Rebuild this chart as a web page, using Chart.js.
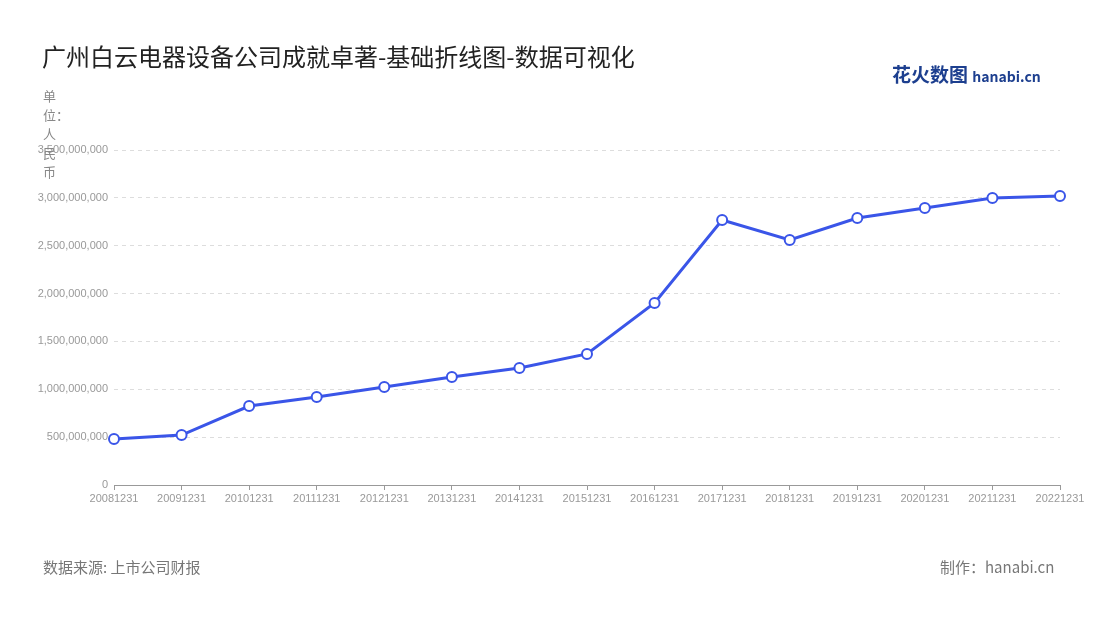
<!DOCTYPE html>
<html><head><meta charset="utf-8">
<script src="https://cdn.jsdelivr.net/npm/chart.js@4"></script>
<style>
body{margin:0;width:1100px;height:620px;background:#fff;font-family:"Noto Sans CJK SC","Noto Sans",sans-serif;position:relative;overflow:hidden}
.t{position:absolute;white-space:nowrap}
#wrap{position:absolute;left:0;top:0;width:1100px;height:620px}
</style></head><body>
<div id="wrap"><canvas id="c"></canvas></div>
<div class="t" style="left:42px;top:38px;font-size:24px;color:#222">广州白云电器设备公司成就卓著-基础折线图-数据可视化</div>
<div class="t" style="left:892px;top:60px;font-size:19px;font-weight:bold;color:#1d3f8f">花火数图 <span style="font-size:14px">hanabi.cn</span></div>
<div class="t" style="left:43px;top:86px;font-size:13px;color:#888;line-height:19px;white-space:normal;width:13px;word-break:break-all">单位：人民币</div>
<div class="t" style="left:43px;top:556px;font-size:15px;color:#777">数据来源: 上市公司财报</div>
<div class="t" style="left:940px;top:556px;font-size:15px;color:#777">制作：hanabi.cn</div>
<script>
const labels = ["20081231","20091231","20101231","20111231","20121231","20131231","20141231","20151231","20161231","20171231","20181231","20191231","20201231","20211231","20221231"];
const values = [480e6,522e6,825e6,920e6,1024e6,1128e6,1222e6,1369e6,1902e6,2769e6,2560e6,2790e6,2894e6,2999e6,3020e6];

new Chart(document.getElementById("c"), {
  type: "line",
  data: {
    labels: labels,
    datasets: [{
      data: values,
      borderColor: "#3a55e8",
      borderWidth: 3,
      pointBackgroundColor: "#fff",
      pointBorderColor: "#3a55e8",
      pointBorderWidth: 2,
      pointRadius: 5,
      tension: 0
    }]
  },
  options: {
    responsive: true,
    maintainAspectRatio: false,
    animation: false,
    layout: { padding: { top: 150, right: 40, left: 0, bottom: 0 } },
    plugins: { legend: { display: false }, tooltip: { enabled: false } },
    scales: {
      x: {
        offset: false,
        afterFit: (s) => { s.height = 135; },
        grid: { drawOnChartArea: false, drawTicks: true, tickLength: 5, color: "#999" },
        border: { color: "#999" },
        ticks: { color: "#999", font: { size: 11 }, maxRotation: 0, autoSkip: false, padding: 2 }
      },
      y: {
        min: 0, max: 3500000000,
        afterFit: (s) => { s.width = 114; },
        ticks: { stepSize: 500000000, color: "#999", font: { size: 11 }, padding: 6,
          callback: (v) => v.toLocaleString("en-US") },
        grid: { color: "#ddd", drawTicks: false },
        border: { display: false, dash: [4, 4] }
      }
    }
  }
});
</script>
</body></html>
